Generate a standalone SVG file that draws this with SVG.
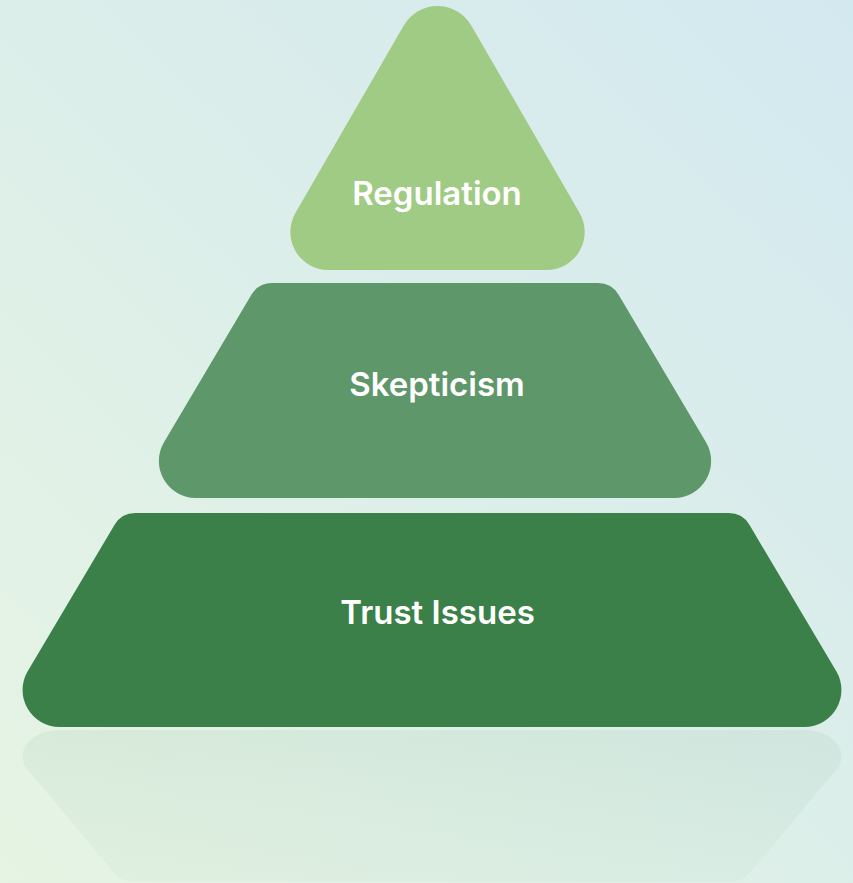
<svg xmlns="http://www.w3.org/2000/svg" width="853" height="883" viewBox="0 0 853 883">
  <defs>
    <linearGradient id="bg" x1="0" y1="883" x2="853" y2="0" gradientUnits="userSpaceOnUse">
      <stop offset="0" stop-color="#e6f4e3"/>
      <stop offset="1" stop-color="#d3e9f0"/>
    </linearGradient>
    <linearGradient id="reflect" x1="0" y1="0" x2="0" y2="1">
      <stop offset="0" stop-color="#3a7f47" stop-opacity="0.03"/>
      <stop offset="1" stop-color="#3a7f47" stop-opacity="0.07"/>
    </linearGradient>
    <!-- base tier outline, reused for the mirrored reflection -->
    <path id="base-shape" d="M135.3 513 L728.7 513 A24 24 0 0 1 749.4 524.8 L836.3 671.2 A37 37 0 0 1 804.5 727 L59.5 727 A37 37 0 0 1 27.7 671.2 L114.6 524.8 A24 24 0 0 1 135.3 513 Z"/>
  </defs>
  <style>
    .label { font-family: Inter, "Noto Sans", "Liberation Sans", sans-serif; font-size: 33px; font-weight: 600; fill: #ffffff; text-anchor: middle; }
    .tier-top { fill: #a0cb84; }
    .tier-mid { fill: #5d976a; }
    .tier-base { fill: #3a8048; }
  </style>

  <rect width="853" height="883" fill="url(#bg)"/>

  <!-- soft mirrored reflection of the base tier -->
  <use href="#base-shape" fill="url(#reflect)" transform="translate(0 730) scale(1 -0.71) translate(0 -727)"/>

  <g id="tier-trust-issues">
    <use href="#base-shape" class="tier-base"/>
    <text class="label" x="437.5" y="624">Trust Issues</text>
  </g>

  <g id="tier-skepticism">
    <path class="tier-mid" d="M272.1 283 L597.9 283 A24 24 0 0 1 618.6 294.8 L706 442.2 A37 37 0 0 1 674.2 498 L195.8 498 A37 37 0 0 1 164 442.2 L251.4 294.8 A24 24 0 0 1 272.1 283 Z"/>
    <text class="label" x="437" y="396">Skepticism</text>
  </g>

  <g id="tier-regulation">
    <path class="tier-top" d="M403.75 25.5 A39 39 0 0 1 471.25 25.5 L579.6 213 A38 38 0 0 1 546.7 270 L328.3 270 A38 38 0 0 1 295.4 213 Z"/>
    <text class="label" x="437" y="205">Regulation</text>
  </g>
</svg>
